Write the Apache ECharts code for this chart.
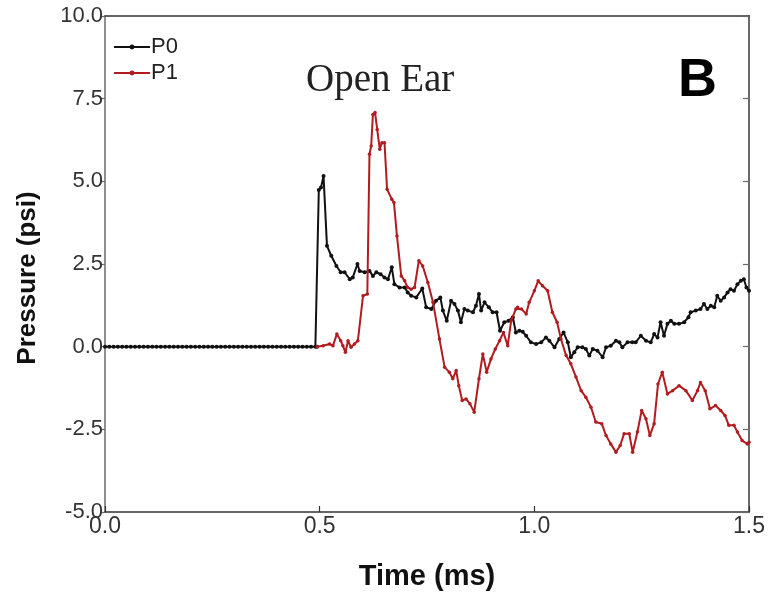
<!DOCTYPE html>
<html>
<head>
<meta charset="utf-8">
<script src="https://cdn.jsdelivr.net/npm/echarts@6/dist/echarts.min.js"></script>
<style>
  html, body { margin: 0; padding: 0; background: #fff; }
  #chart { width: 768px; height: 596px; }
</style>
</head>
<body>
<div id="chart"></div>
<script>
// Pressure traces (psi) against time (ms) for the two transducers.
const p0Time = [
  0.00, 0.01, 0.02, 0.03, 0.04, 0.05, 0.06, 0.07, 0.08, 0.09,
  0.10, 0.11, 0.12, 0.13, 0.14, 0.15, 0.16, 0.17, 0.18, 0.19,
  0.20, 0.21, 0.22, 0.23, 0.24, 0.25, 0.26, 0.27, 0.28, 0.29,
  0.30, 0.31, 0.32, 0.33, 0.34, 0.35, 0.36, 0.37, 0.38, 0.39,
  0.40, 0.41, 0.42, 0.43, 0.44, 0.45, 0.46, 0.47, 0.48, 0.49,
  0.494, 0.498, 0.503, 0.509, 0.517, 0.527, 0.539, 0.549, 0.558, 0.570,
  0.577, 0.588, 0.593, 0.605, 0.616, 0.624, 0.632, 0.642, 0.651, 0.659,
  0.668, 0.674, 0.686, 0.698, 0.705, 0.713, 0.725, 0.739, 0.748, 0.760,
  0.771, 0.781, 0.787, 0.796, 0.806, 0.814, 0.822, 0.829, 0.837, 0.845,
  0.857, 0.864, 0.871, 0.876, 0.884, 0.894, 0.903, 0.912, 0.920, 0.930,
  0.940, 0.950, 0.957, 0.965, 0.973, 0.981, 0.992, 1.004, 1.016, 1.027,
  1.035, 1.047, 1.058, 1.068, 1.078, 1.085, 1.093, 1.101, 1.112, 1.120,
  1.128, 1.136, 1.147, 1.159, 1.167, 1.178, 1.190, 1.198, 1.205, 1.217,
  1.228, 1.236, 1.248, 1.260, 1.271, 1.279, 1.287, 1.294, 1.302, 1.310,
  1.318, 1.326, 1.337, 1.349, 1.359, 1.364, 1.376, 1.387, 1.395, 1.403,
  1.411, 1.419, 1.426, 1.434, 1.442, 1.450, 1.457, 1.465, 1.473, 1.481,
  1.488, 1.494, 1.500
];
const p0Pressure = [
  0, 0, 0, 0, 0, 0, 0, 0, 0, 0,
  0, 0, 0, 0, 0, 0, 0, 0, 0, 0,
  0, 0, 0, 0, 0, 0, 0, 0, 0, 0,
  0, 0, 0, 0, 0, 0, 0, 0, 0, 0,
  0, 0, 0, 0, 0, 0, 0, 0, 0, 0,
  0, 4.74, 4.81, 5.16, 3.05, 2.75, 2.44, 2.25, 2.25, 2.04,
  2.09, 2.50, 2.29, 2.25, 2.29, 2.14, 2.25, 2.19, 2.09, 2.04,
  2.40, 1.89, 1.79, 1.79, 1.64, 1.54, 1.49, 1.76, 1.19, 1.14,
  1.39, 1.49, 1.09, 0.78, 1.39, 1.29, 1.09, 0.74, 1.14, 1.09,
  1.04, 1.24, 1.59, 1.09, 1.34, 1.19, 1.04, 1.04, 0.48, 0.74,
  0.78, 0.89, 0.43, 0.48, 0.45, 0.33, 0.13, 0.08, 0.13, 0.28,
  0.18, -0.02, 0.23, 0.43, 0.13, -0.32, -0.17, -0.02, -0.02, -0.07,
  -0.27, -0.07, -0.12, -0.32, -0.02, 0.03, 0.18, 0.13, -0.02, 0.13,
  0.13, 0.13, 0.33, 0.18, 0.13, 0.38, 0.28, 0.74, 0.33, 0.69,
  0.78, 0.69, 0.69, 0.74, 0.89, 1.04, 1.09, 1.14, 1.29, 1.14,
  1.24, 1.19, 1.54, 1.39, 1.49, 1.64, 1.74, 1.69, 1.89, 1.99,
  2.04, 1.79, 1.69
];

const p1Time = [
  0.494, 0.508, 0.523, 0.531, 0.540, 0.549, 0.554, 0.560, 0.566, 0.573,
  0.581, 0.589, 0.601, 0.611, 0.616, 0.620, 0.624, 0.629, 0.634, 0.640,
  0.645, 0.651, 0.657, 0.668, 0.673, 0.680, 0.690, 0.698, 0.705, 0.713,
  0.721, 0.731, 0.740, 0.752, 0.764, 0.779, 0.791, 0.802, 0.810, 0.818,
  0.824, 0.832, 0.841, 0.850, 0.860, 0.871, 0.880, 0.889, 0.899, 0.909,
  0.919, 0.928, 0.938, 0.946, 0.957, 0.961, 0.970, 0.981, 0.988, 1.000,
  1.009, 1.019, 1.031, 1.042, 1.053, 1.062, 1.074, 1.085, 1.097, 1.109,
  1.120, 1.132, 1.143, 1.157, 1.167, 1.178, 1.190, 1.200, 1.209, 1.221,
  1.229, 1.240, 1.250, 1.260, 1.269, 1.279, 1.288, 1.298, 1.310, 1.322,
  1.337, 1.353, 1.368, 1.380, 1.387, 1.398, 1.409, 1.422, 1.434, 1.444,
  1.453, 1.465, 1.473, 1.484, 1.496, 1.500
];
const p1Pressure = [
  0, 0.03, 0.08, 0.03, 0.38, 0.18, 0.03, -0.17, 0.18, -0.02,
  0.08, 0.18, 1.54, 1.59, 5.82, 6.07, 7.02, 7.08, 6.57, 5.97,
  6.17, 6.17, 4.76, 4.46, 4.36, 3.35, 2.14, 1.99, 1.79, 1.74,
  1.79, 2.60, 2.44, 1.94, 1.34, 0.23, -0.62, -0.77, -0.97, -0.72,
  -1.18, -1.63, -1.58, -1.73, -1.98, -0.97, -0.22, -0.77, -0.37, -0.07,
  0.18, 0.43, 0.03, 0.78, 1.14, 1.19, 1.14, 0.99, 1.34, 1.69,
  1.99, 1.84, 1.69, 1.04, 0.74, 0.23, -0.27, -0.52, -0.92, -1.33,
  -1.53, -1.83, -2.28, -2.33, -2.69, -2.94, -3.19, -2.99, -2.63, -2.63,
  -3.19, -2.58, -1.93, -2.18, -2.69, -2.33, -1.13, -0.77, -1.43, -1.33,
  -1.18, -1.33, -1.63, -1.33, -1.08, -1.33, -1.88, -1.78, -1.93, -2.08,
  -2.38, -2.38, -2.58, -2.84, -2.94, -2.89
];

const seriesNames = ['P0', 'P1'];
const xAxisTitle = 'Time (ms)';
const yAxisTitle = 'Pressure (psi)';
const annotation = 'Open Ear';
const panelLetter = 'B';

const pairs = (xs, ys) => xs.map((x, i) => [x, ys[i]]);

const axisGrey = '#6a6a6a';
const sansFont = '"Liberation Sans", Arial, sans-serif';

const chart = echarts.init(document.getElementById('chart'), null, { renderer: 'canvas' });

chart.setOption({
  animation: false,
  backgroundColor: '#ffffff',
  grid: { left: 105, right: 18, top: 16, bottom: 83 },
  legend: {
    data: seriesNames,
    orient: 'vertical',
    left: 108,
    top: 31,
    itemGap: 4,
    itemWidth: 36,
    itemHeight: 6,
    textStyle: { fontFamily: sansFont, fontSize: 22, color: '#222', padding: [0, 0, 0, -4] }
  },
  xAxis: [
    {
      type: 'value', min: 0, max: 1.5, interval: 0.5,
      name: xAxisTitle, nameLocation: 'middle', nameGap: 50,
      nameTextStyle: { fontFamily: sansFont, fontSize: 29, fontWeight: 'bold', color: '#111' },
      axisLine: { show: true, onZero: false, lineStyle: { color: '#333', width: 1.5 } },
      axisTick: { show: true, inside: true, length: 6, lineStyle: { color: '#333', width: 1.2 } },
      axisLabel: { fontFamily: sansFont, fontSize: 23, color: '#333', margin: 3, formatter: v => v.toFixed(1) },
      splitLine: { show: false }
    },
    {
      type: 'value', min: 0, max: 1.5, position: 'top',
      axisLine: { show: true, onZero: false, lineStyle: { color: '#333', width: 1.5 } },
      axisTick: { show: false }, axisLabel: { show: false }, splitLine: { show: false }
    }
  ],
  yAxis: [
    {
      type: 'value', min: -5, max: 10, interval: 2.5,
      axisLine: { show: true, onZero: false, lineStyle: { color: axisGrey, width: 1.5 } },
      axisTick: { show: true, inside: false, length: 5, lineStyle: { color: axisGrey, width: 1.2 } },
      axisLabel: { fontFamily: sansFont, fontSize: 22, color: '#333', margin: 2, formatter: v => v.toFixed(1) },
      splitLine: { show: false }
    },
    {
      type: 'value', min: -5, max: 10, interval: 2.5, position: 'right',
      axisLine: { show: true, onZero: false, lineStyle: { color: axisGrey, width: 2 } },
      axisTick: { show: true, inside: true, length: 6, lineStyle: { color: axisGrey, width: 1.2 } },
      axisLabel: { show: false }, splitLine: { show: false }
    }
  ],
  series: [
    {
      name: seriesNames[0], type: 'line', xAxisIndex: 0, yAxisIndex: 0,
      data: pairs(p0Time, p0Pressure),
      symbol: 'circle', symbolSize: 4, showSymbol: true,
      itemStyle: { color: '#111' },
      lineStyle: { color: '#111', width: 2 },
      z: 2
    },
    {
      name: seriesNames[1], type: 'line', xAxisIndex: 0, yAxisIndex: 0,
      data: pairs(p1Time, p1Pressure),
      symbol: 'circle', symbolSize: 3.5, showSymbol: true,
      itemStyle: { color: '#b01c1f' },
      lineStyle: { color: '#b01c1f', width: 2 },
      z: 3
    }
  ],
  graphic: [
    {
      // y-axis title, rotated and centred beside the value axis
      type: 'text', x: 28, y: 278, rotation: Math.PI / 2,
      style: {
        text: yAxisTitle, fontFamily: sansFont, fontSize: 26, fontWeight: 'bold', fill: '#111',
        align: 'center', verticalAlign: 'middle'
      }
    },
    {
      type: 'text', left: 306, top: 61,
      style: { text: annotation, fontFamily: '"Liberation Serif", "Times New Roman", serif', fontSize: 39, fill: '#222' }
    },
    {
      type: 'text', left: 678, top: 54,
      style: { text: panelLetter, fontFamily: sansFont, fontSize: 54, fontWeight: 'bold', fill: '#000' }
    }
  ]
});
</script>
</body>
</html>
